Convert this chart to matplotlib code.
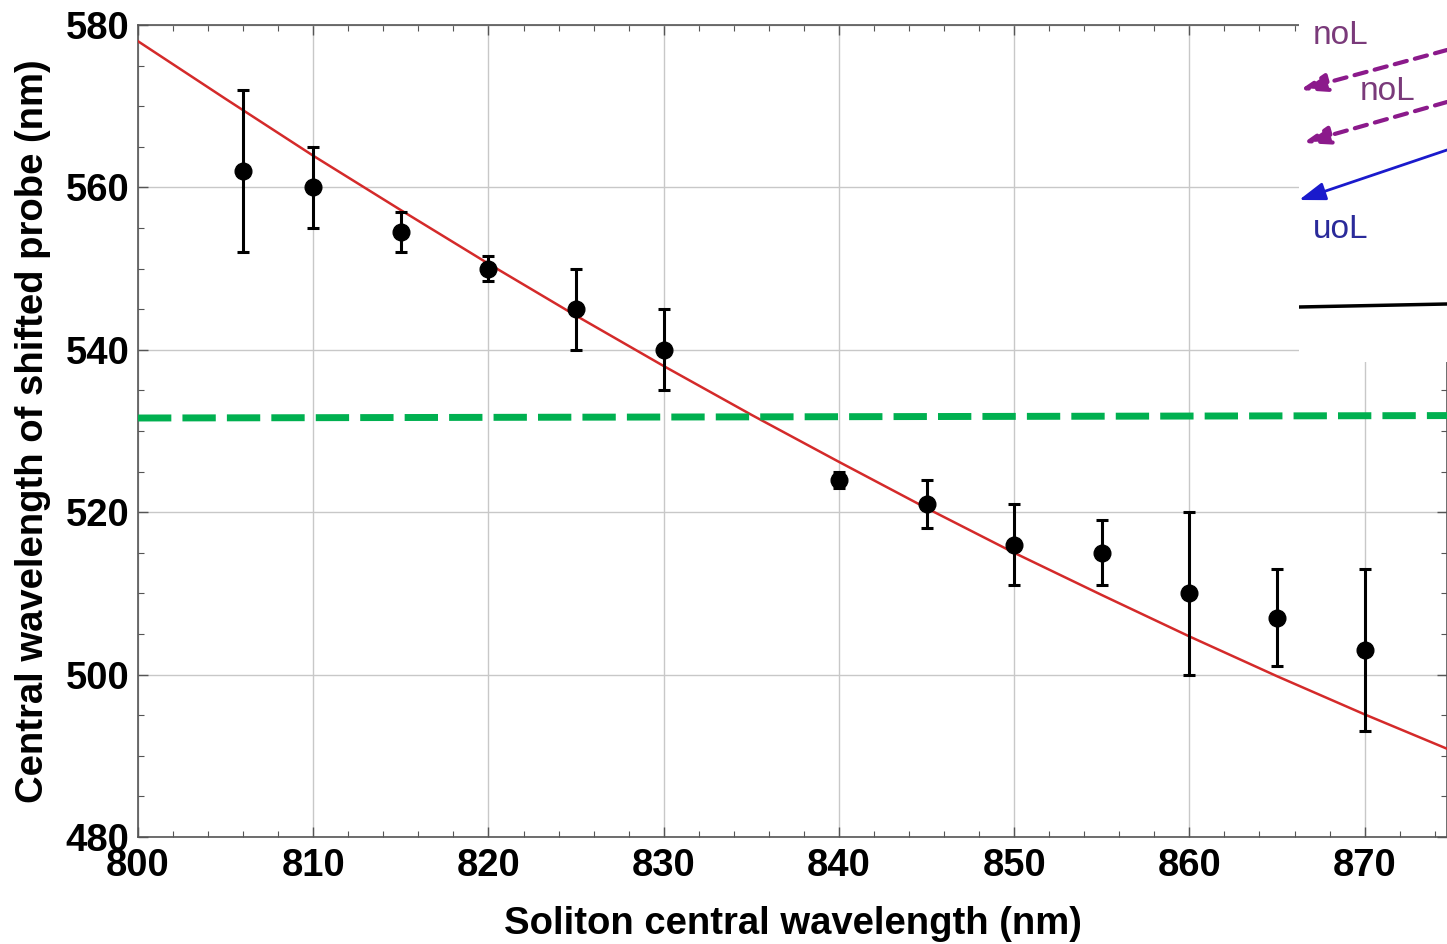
import matplotlib
matplotlib.use("Agg")
import matplotlib.pyplot as plt
from matplotlib.ticker import MultipleLocator

# measured points with error bars
soliton_nm = [806, 810, 815, 820, 825, 830, 840, 845, 850, 855, 860, 865, 870]
probe_nm = [562, 560, 554.5, 550, 545, 540, 524, 521, 516, 515, 510, 507, 503]
err_low = [552, 555, 552, 548.5, 540, 535, 523, 518, 511, 511, 500, 501, 493]
err_high = [572, 565, 557, 551.5, 550, 545, 525, 524, 521, 519, 520, 513, 513]

# theory curve (red)
fit_x = [800, 805, 810, 815, 820, 825, 830, 835, 840, 845, 850, 855, 860, 865, 870, 875]
fit_y = [578, 570.9, 563.9, 557.2, 550.6, 544.2, 538.0, 532.0, 526.2, 520.5,
         515.0, 509.8, 504.7, 499.8, 495.1, 490.6]

# green dashed reference line
ref_x = [800, 874.7]
ref_y = [531.6, 531.9]

yerr = [[p - lo for p, lo in zip(probe_nm, err_low)],
        [hi - p for p, hi in zip(probe_nm, err_high)]]

plt.rcParams["font.family"] = ["Liberation Sans", "DejaVu Sans"]
plt.rcParams["font.weight"] = "bold"

W, H = 1447, 944
fig = plt.figure(figsize=(W / 100, H / 100), dpi=100)
ax = fig.add_axes([138 / W, (H - 837) / H, (W - 138) / W, (837 - 25) / H])

ax.plot(fit_x, fit_y, color="#d42a2a", lw=1.8, zorder=3)
ax.plot(ref_x, ref_y, color="#00b050", lw=5, dashes=(4.8, 1.6), zorder=4)
ax.errorbar(soliton_nm, probe_nm, yerr=yerr, fmt="o", color="black", ms=12,
            elinewidth=2.2, capsize=4, capthick=2.2, zorder=5)

ax.set_xlim(800, 874.7)
ax.set_ylim(480, 580)
ax.xaxis.set_major_locator(MultipleLocator(10))
ax.xaxis.set_minor_locator(MultipleLocator(2))
ax.yaxis.set_major_locator(MultipleLocator(20))
ax.yaxis.set_minor_locator(MultipleLocator(5))
ax.grid(True, which="major", color="#c8c8c8", lw=1.0, zorder=0)
ax.tick_params(which="both", direction="in", top=True, right=True,
               color="#555555", labelsize=27.5)
ax.tick_params(which="major", length=7, width=1)
ax.tick_params(which="minor", length=4, width=0.8)
ax.tick_params(axis="y", pad=6)
ax.tick_params(axis="x", pad=8)
for s in ax.spines.values():
    s.set_color("#555555")
    s.set_linewidth(1.2)
for lab in ax.get_xticklabels() + ax.get_yticklabels():
    lab.set_fontweight("bold")

ax.set_xlabel("Soliton central wavelength (nm)", fontsize=27.5, fontweight="bold", labelpad=16)
ax.set_ylabel("Central wavelength of shifted probe (nm)", fontsize=27.5, fontweight="bold", labelpad=11)

# pasted inset in the top right corner
ins = fig.add_axes([1299 / W, (H - 362) / H, (W - 1299) / W, 362 / H], zorder=10)
ins.set_xlim(1299, 1447)
ins.set_ylim(362, 0)
ins.set_facecolor("white")
ins.axis("off")
ins.add_patch(plt.Rectangle((1299, 0), 148, 362, color="white", zorder=0))
purple = "#8b1a8b"
blue = "#1a1acc"
ins.text(1313, 35, "noL", color="#7a3a7a", fontsize=24, fontweight="normal", va="center")
ins.text(1360, 92, "noL", color="#7a3a7a", fontsize=24, fontweight="normal", va="center")
ins.text(1313, 230, "uoL", color="#2a2a9a", fontsize=24, fontweight="normal", va="center")
head = "-|>,head_length=1.6,head_width=0.55"
ins.annotate("", xy=(1300, 90), xytext=(1447, 50),
             arrowprops=dict(arrowstyle=head, color=purple,
                             lw=3, linestyle=(0, (3, 2)), shrinkA=0, shrinkB=0))
ins.annotate("", xy=(1303, 143), xytext=(1447, 102),
             arrowprops=dict(arrowstyle=head, color=purple,
                             lw=3, linestyle=(0, (3, 2)), shrinkA=0, shrinkB=0))
ins.annotate("", xy=(1299, 200), xytext=(1447, 150),
             arrowprops=dict(arrowstyle=head, color=blue,
                             lw=2, shrinkA=0, shrinkB=0))
ins.plot([1299, 1447], [307, 304], color="black", lw=2.5)

fig.savefig("out.png", dpi=100)
